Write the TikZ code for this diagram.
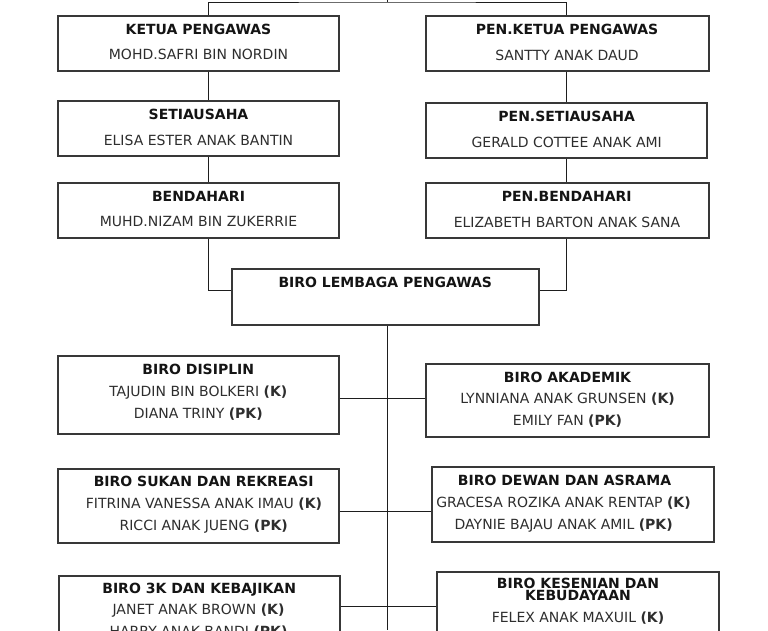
\documentclass[tikz,border=0pt]{standalone}
\usepackage{fontspec}
\setmainfont{DejaVu Sans}
\usetikzlibrary{calc}
\definecolor{boxc}{HTML}{383838}
\definecolor{titc}{HTML}{141414}
\definecolor{namc}{HTML}{2E2E2E}
\definecolor{linec}{HTML}{1E1E1E}
\tikzset{
  orgbox/.style={draw=boxc, line width=1.1pt, inner sep=0pt, minimum width=281pt, minimum height=55pt},
  tit/.style={anchor=base, inner sep=0pt, text=titc, font=\fontsize{14}{15}\selectfont\bfseries},
  nam/.style={anchor=base, inner sep=0pt, text=namc, font=\fontsize{14}{15}\selectfont},
  conn/.style={draw=linec, line width=1pt},
}
\begin{document}
\begin{tikzpicture}[x=1pt,y=-1pt]
\useasboundingbox (0,0) rectangle (768,630);
\clip (0,0) rectangle (768,630);
\fill[white] (0,0) rectangle (768,630);

% boxes
\node[orgbox] (kp)  at (198.5,43.5) {};
\node[orgbox] (st)  at (198.5,128.5) {};
\node[orgbox] (bd)  at (198.5,210.5) {};
\node[orgbox, minimum width=283pt] (pkp) at (567.5,43.5) {};
\node[orgbox] (pst) at (566.5,130.5) {};
\node[orgbox, minimum width=283pt] (pbd) at (567.5,210.5) {};
\node[orgbox, minimum width=307pt, minimum height=56pt] (blp) at (385.5,297) {};
\node[orgbox, minimum height=78pt] (bds) at (198.5,395) {};
\node[orgbox, minimum width=283pt, minimum height=73pt] (bak) at (567.5,400.5) {};
\node[orgbox, minimum height=74pt] (bsk) at (198.5,506) {};
\node[orgbox, minimum width=282pt, minimum height=75pt] (bdw) at (573,504.5) {};
\node[orgbox, minimum height=74pt] (b3k) at (199.5,613) {};
\node[orgbox, minimum width=282pt, minimum height=75pt] (bks) at (578,609.5) {};

% texts
\node[tit] (kpt) at (198.5,34) {KETUA PENGAWAS};
\node[nam] (kpn) at (198.5,59) {MOHD.SAFRI BIN NORDIN};
\node[tit] (stt) at (198.5,119) {SETIAUSAHA};
\node[nam] (stn) at (198.5,145) {ELISA ESTER ANAK BANTIN};
\node[tit] (bdt) at (198.5,201) {BENDAHARI};
\node[nam] (bdn) at (198.5,226) {MUHD.NIZAM BIN ZUKERRIE};
\node[tit] (pkpt) at (567,34) {PEN.KETUA PENGAWAS};
\node[nam] (pkpn) at (567,60) {SANTTY ANAK DAUD};
\node[tit] (pstt) at (566.7,121) {PEN.SETIAUSAHA};
\node[nam] (pstn) at (566.7,147) {GERALD COTTEE ANAK AMI};
\node[tit] (pbdt) at (566.7,201) {PEN.BENDAHARI};
\node[nam] (pbdn) at (567,227) {ELIZABETH BARTON ANAK SANA};
\node[tit] (blpt) at (385.3,287) {BIRO LEMBAGA PENGAWAS};
\node[tit] (bdst) at (198.3,374) {BIRO DISIPLIN};
\node[nam] (bdsa) at (198.3,396) {TAJUDIN BIN BOLKERI \textbf{(K)}};
\node[nam] (bdsb) at (198.3,418) {DIANA TRINY \textbf{(PK)}};
\node[tit] (bakt) at (567.5,382) {BIRO AKADEMIK};
\node[nam] (baka) at (567.5,403) {LYNNIANA ANAK GRUNSEN \textbf{(K)}};
\node[nam] (bakb) at (567.5,425) {EMILY FAN \textbf{(PK)}};
\node[tit] (bskt) at (203.7,486) {BIRO SUKAN DAN REKREASI};
\node[nam] (bska) at (204,508) {FITRINA VANESSA ANAK IMAU \textbf{(K)}};
\node[nam] (bskb) at (203.7,530) {RICCI ANAK JUENG \textbf{(PK)}};
\node[tit] (bdwt) at (564.5,485) {BIRO DEWAN DAN ASRAMA};
\node[nam] (bdwa) at (563.5,507) {GRACESA ROZIKA ANAK RENTAP \textbf{(K)}};
\node[nam] (bdwb) at (563.7,529) {DAYNIE BAJAU ANAK AMIL \textbf{(PK)}};
\node[tit] (b3kt) at (199.2,593) {BIRO 3K DAN KEBAJIKAN};
\node[nam] (b3ka) at (198.5,614) {JANET ANAK BROWN \textbf{(K)}};
\node[nam] (b3kb) at (198.5,636) {HARRY ANAK BANDI \textbf{(PK)}};
\node[tit, anchor=center, align=center, font=\fontsize{14}{9.6}\selectfont\bfseries] (bkst) at (578,589.5) {BIRO KESENIAN DAN\\KEBUDAYAAN};
\node[nam] (bksa) at (578,622) {FELEX ANAK MAXUIL \textbf{(K)}};

% helper coordinates
\coordinate (top0) at (387,0);
\coordinate (topc) at (387,2);
\coordinate (lx) at (208,0);
\coordinate (rx) at (566.5,0);
\coordinate (jl) at (208,290);
\coordinate (jr) at (566.5,290);
\coordinate (sx) at (387,0);
\coordinate (bot) at (387,630);
\coordinate (h1) at (387,398);
\coordinate (h2) at (387,511);
\coordinate (h3) at (387,606);

% connectors
\draw[conn] (top0) -- (topc);
\draw[conn] (kp.north -| lx) |- (topc) -| (pkp.north -| rx);
\draw[conn] (kp.south -| lx) -- (st.north -| lx);
\draw[conn] (st.south -| lx) -- (bd.north -| lx);
\draw[conn] (pkp.south -| rx) -- (pst.north -| rx);
\draw[conn] (pst.south -| rx) -- (pbd.north -| rx);
\draw[conn] (bd.south -| lx) -- (jl) -- (jl -| blp.west);
\draw[conn] (pbd.south -| rx) -- (jr) -- (jr -| blp.east);
\draw[conn] (blp.south -| sx) -- (bot);
\draw[conn] (h1 -| bds.east) -- (h1 -| bak.west);
\draw[conn] (h2 -| bsk.east) -- (h2 -| bdw.west);
\draw[conn] (h3 -| b3k.east) -- (h3 -| bks.west);
\end{tikzpicture}
\end{document}
